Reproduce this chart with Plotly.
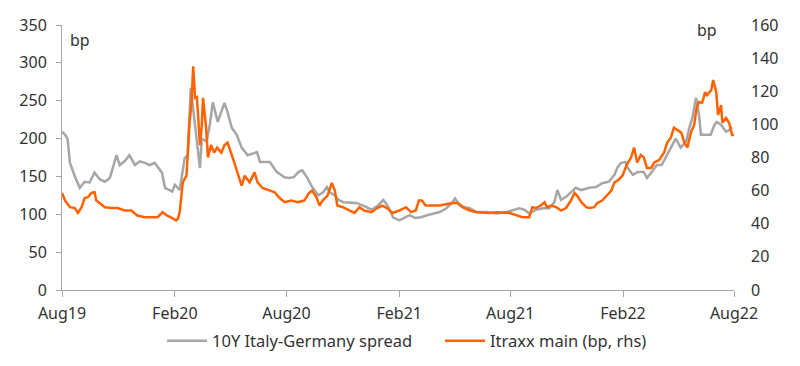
import plotly.graph_objects as go

# 10Y Italy-Germany spread (bp, left axis)
spread_dates = [
    "2019-08-01","2019-08-06","2019-08-10","2019-08-14","2019-08-22","2019-08-30","2019-09-07","2019-09-15",
    "2019-09-23","2019-10-02","2019-10-10","2019-10-18","2019-10-29","2019-11-03","2019-11-11","2019-11-19",
    "2019-11-28","2019-12-06","2019-12-14","2019-12-22","2019-12-30","2020-01-11","2020-01-16","2020-01-24",
    "2020-01-28","2020-02-01","2020-02-09","2020-02-17","2020-02-22","2020-02-27","2020-03-01","2020-03-08",
    "2020-03-13","2020-03-16","2020-03-24","2020-03-29","2020-04-03","2020-04-11","2020-04-18","2020-04-22",
    "2020-04-27","2020-05-04","2020-05-12","2020-05-20","2020-05-30","2020-06-14","2020-06-19","2020-07-05",
    "2020-07-16","2020-07-29","2020-08-05","2020-08-13","2020-08-21","2020-08-27","2020-09-04","2020-09-12",
    "2020-09-22","2020-09-30","2020-10-06","2020-10-11","2020-10-19","2020-10-25","2020-11-02","2020-11-13",
    "2020-11-23","2020-12-08","2020-12-18","2020-12-29","2021-01-06","2021-01-14","2021-01-22","2021-02-01",
    "2021-02-10","2021-02-18","2021-02-27","2021-03-08","2021-03-20","2021-03-31","2021-04-08","2021-04-19",
    "2021-04-28","2021-05-03","2021-05-08","2021-05-16","2021-05-27","2021-06-07","2021-06-23","2021-07-10",
    "2021-07-26","2021-08-08","2021-08-16","2021-08-24","2021-09-01","2021-09-12","2021-09-24","2021-10-04",
    "2021-10-12","2021-10-17","2021-10-23","2021-10-31","2021-11-08","2021-11-16","2021-11-25","2021-12-08",
    "2021-12-19","2021-12-29","2022-01-09","2022-01-18","2022-01-23","2022-01-29","2022-02-05","2022-02-09",
    "2022-02-17","2022-02-25","2022-03-07","2022-03-12","2022-03-20","2022-03-28","2022-04-05","2022-04-14",
    "2022-04-22","2022-04-28","2022-05-06","2022-05-15","2022-05-20","2022-05-25","2022-05-31","2022-06-05",
    "2022-06-08","2022-06-16","2022-06-24","2022-06-30","2022-07-04","2022-07-11","2022-07-19","2022-07-24",
    "2022-07-29",
]
spread_values = [
    209,205,200,168,150,135,143,142,
    155,146,143,148,178,165,170,178,
    165,170,168,165,168,155,135,132,
    130,139,132,174,178,267,244,196,
    161,200,196,218,248,222,240,247,
    235,214,205,188,178,182,169,169,
    156,149,148,149,156,158,148,136,
    125,129,136,129,125,119,116,115,
    115,110,106,112,119,110,96,92,
    96,99,95,96,99,101,103,108,
    115,121,115,110,108,103,103,101,
    103,106,108,106,101,106,108,108,
    116,132,119,123,129,135,132,135,
    136,141,143,152,162,168,169,161,
    152,156,156,148,156,165,165,178,
    191,200,188,196,214,227,254,231,
    205,205,205,218,222,218,209,211,
    215,
]

# iTraxx main (bp, right axis)
itraxx_dates = [
    "2019-08-01","2019-08-06","2019-08-14","2019-08-22","2019-08-27","2019-09-02","2019-09-07","2019-09-12",
    "2019-09-18","2019-09-23","2019-09-26","2019-10-02","2019-10-10","2019-10-21","2019-10-31","2019-11-11",
    "2019-11-22","2019-12-02","2019-12-14","2019-12-25","2020-01-04","2020-01-12","2020-01-19","2020-01-27",
    "2020-02-03","2020-02-06","2020-02-09","2020-02-14","2020-02-20","2020-02-22","2020-02-25","2020-02-28",
    "2020-03-02","2020-03-05","2020-03-08","2020-03-13","2020-03-16","2020-03-18","2020-03-23","2020-03-26",
    "2020-03-31","2020-04-05","2020-04-10","2020-04-17","2020-04-22","2020-04-27","2020-05-03","2020-05-08",
    "2020-05-13","2020-05-20","2020-05-25","2020-06-02","2020-06-10","2020-06-15","2020-06-23","2020-07-05",
    "2020-07-13","2020-07-21","2020-07-29","2020-08-09","2020-08-19","2020-08-30","2020-09-07","2020-09-12",
    "2020-09-19","2020-09-24","2020-09-29","2020-10-07","2020-10-14","2020-10-19","2020-10-23","2020-11-01",
    "2020-11-12","2020-11-20","2020-11-28","2020-12-06","2020-12-18","2020-12-27","2021-01-04","2021-01-12",
    "2021-01-21","2021-02-01","2021-02-12","2021-02-20","2021-02-28","2021-03-05","2021-03-10","2021-03-16",
    "2021-04-08","2021-04-29","2021-05-07","2021-05-15","2021-05-27","2021-06-07","2021-06-29","2021-07-10",
    "2021-07-31","2021-08-11","2021-08-21","2021-09-01","2021-09-06","2021-09-12","2021-09-20","2021-09-26",
    "2021-09-30","2021-10-07","2021-10-15","2021-10-23","2021-10-31","2021-11-08","2021-11-14","2021-11-18",
    "2021-11-25","2021-12-03","2021-12-08","2021-12-16","2021-12-21","2021-12-29","2022-01-06","2022-01-13",
    "2022-01-18","2022-01-23","2022-01-31","2022-02-07","2022-02-14","2022-02-19","2022-02-24","2022-03-02",
    "2022-03-07","2022-03-12","2022-03-19","2022-03-24","2022-04-01","2022-04-09","2022-04-14","2022-04-20",
    "2022-04-25","2022-04-30","2022-05-07","2022-05-12","2022-05-17","2022-05-23","2022-05-28","2022-06-01",
    "2022-06-05","2022-06-10","2022-06-15","2022-06-18","2022-06-25","2022-06-28","2022-07-03","2022-07-06",
    "2022-07-11","2022-07-13","2022-07-19","2022-07-24","2022-07-29","2022-08-01",
]
itraxx_values = [
    58.6,54,50,49.5,46.5,50,55.5,56,
    58.6,59,54,52.5,50,49.5,49.5,48,
    48,45,44,44,44,47,45,43.5,
    42,43,47,65,69,81.5,101,112,
    135,116,116.5,87.5,99.6,116,98,80,
    87.5,83,86,83,87.5,89,83,77,
    71,63,69,65,71,65,61.6,60,
    59,55.5,53,54,53,54,58.6,60,
    56,51,54,57,64.6,60,51,50,
    48,46.5,50,48,47,49.5,51,49.5,
    46.5,48,50,47,48,54,54,51,
    51,52.5,52.5,50,48,47,46.5,47,
    46.5,45,44,44,50,49.5,51,53,
    50,51,50,48,49.5,54,58.6,57,
    53,50,49.5,50,52.5,54,57,60,
    65,66,69,75.5,80,86,77,81.5,
    80,73.7,73.7,77,78.5,83,89,92,
    98,96.6,95,89,86,95.4,99.6,110,
    113.5,113,119.5,117.7,120.8,126.8,119.5,105.7,
    111.7,101,103.9,101,93.6,93.6,
]

x_tickvals = ["2019-08-01","2020-02-01","2020-08-01","2021-02-01","2021-08-01","2022-02-01","2022-08-01"]
x_ticktext = ["Aug19","Feb20","Aug20","Feb21","Aug21","Feb22","Aug22"]
left_ticks = [0, 50, 100, 150, 200, 250, 300, 350]
right_ticks = [0, 20, 40, 60, 80, 100, 120, 140, 160]

FONT = "Noto Sans"
TXT = "#333333"
AX = "#A6A6A6"
W, H = 800, 366
OFF = 8  # page body margin offset
# plot area in screen pixels
SX0, SX1, SY0, SY1 = 62, 734, 25, 290
PW, PH = SX1 - SX0, SY1 - SY0
L, T = SX0 - OFF, SY0 - OFF
R, B = W - L - PW, H - T - PH

fig = go.Figure()
fig.add_trace(go.Scatter(
    x=spread_dates, y=spread_values, name="10Y Italy-Germany spread",
    mode="lines", line=dict(color="#A6A6A6", width=2.5), yaxis="y",
))
fig.add_trace(go.Scatter(
    x=itraxx_dates, y=itraxx_values, name="Itraxx main (bp, rhs)",
    mode="lines", line=dict(color="#FF6200", width=2.5), yaxis="y2",
))

fig.update_layout(
    width=W, height=H,
    margin=dict(l=L, r=R, t=T, b=B, autoexpand=False),
    paper_bgcolor="white", plot_bgcolor="white",
    font=dict(family=FONT, size=16, color=TXT),
    showlegend=True,
    legend=dict(orientation="h", x=(162 - SX0) / PW, xanchor="left", y=(SY1 - 341) / PH, yanchor="middle",
                font=dict(family=FONT, size=16.5, color=TXT),
                entrywidth=223, entrywidthmode="pixels", itemwidth=40),
    xaxis=dict(
        type="date", range=["2019-08-01", "2022-08-01"], automargin=False,
        tickvals=x_tickvals, ticktext=x_ticktext,
        showgrid=False, zeroline=False, showline=True, linecolor=AX, linewidth=1,
        ticks="outside", ticklen=6, tickcolor=AX, ticklabelstandoff=3,
        tickfont=dict(family=FONT, size=16, color=TXT),
    ),
    yaxis=dict(
        range=[0, 350], tickvals=left_ticks, automargin=False,
        showgrid=False, zeroline=False, showline=True, linecolor=AX, linewidth=1,
        ticks="outside", ticklen=5, tickcolor=AX, ticklabelstandoff=6,
        tickfont=dict(family=FONT, size=16, color=TXT),
    ),
    yaxis2=dict(
        range=[0, 160], tickvals=right_ticks, overlaying="y", side="right", automargin=False,
        showgrid=False, zeroline=False, showline=False,
        ticks="", ticklabelstandoff=16,
        tickfont=dict(family=FONT, size=16, color=TXT),
    ),
    annotations=[
        dict(text="bp", xref="paper", yref="paper", x=(68 - SX0) / PW, y=(SY1 - 40) / PH,
             xanchor="left", yanchor="middle", showarrow=False, font=dict(family=FONT, size=16, color=TXT)),
        dict(text="bp", xref="paper", yref="paper", x=(695 - SX0) / PW, y=(SY1 - 30) / PH,
             xanchor="left", yanchor="middle", showarrow=False, font=dict(family=FONT, size=16, color=TXT)),
    ],
)

fig.write_html("out.html")
